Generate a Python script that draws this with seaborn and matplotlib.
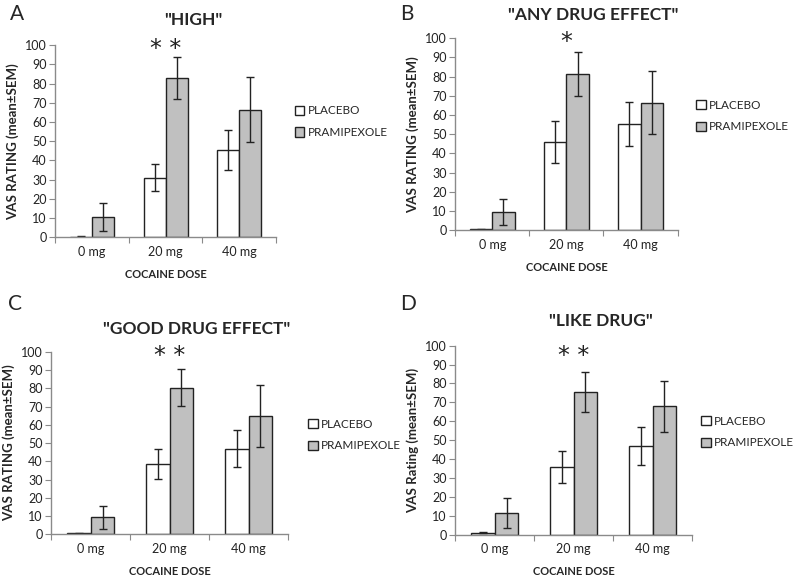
import pandas as pd
import matplotlib.pyplot as plt
import seaborn as sns
from matplotlib.patches import Patch

# data
doses = ["0 mg", "20 mg", "40 mg"]
groups = ["PLACEBO", "PRAMIPEXOLE"]
titles = ['"HIGH"', '"ANY DRUG EFFECT"', '"GOOD DRUG EFFECT"', '"LIKE DRUG"']
letters = ["A", "B", "C", "D"]
ylabels = ["VAS RATING (mean\u00b1SEM)", "VAS RATING (mean\u00b1SEM)",
           "VAS RATING (mean\u00b1SEM)", "VAS Rating (mean\u00b1SEM)"]
stars = ["* *", "*", "* *", "* *"]

placebo_mean = [[0.3, 31.0, 45.5], [0.5, 46.0, 55.5], [0.5, 38.5, 47.0], [1.0, 36.0, 47.0]]
placebo_sem = [[0.3, 7.0, 10.5], [0.3, 11.0, 11.5], [0.3, 8.3, 10.0], [0.3, 8.5, 10.0]]
prami_mean = [[10.5, 83.0, 66.5], [9.5, 81.5, 66.5], [9.3, 80.5, 65.0], [11.5, 75.5, 68.0]]
prami_sem = [[7.3, 11.0, 16.7], [6.7, 11.5, 16.5], [6.3, 10.3, 17.0], [8.0, 10.5, 13.5]]

colors = {"PLACEBO": "white", "PRAMIPEXOLE": "#c0c0c0"}

# panel placement [left, bottom, width, height] and legend anchor
axes_pos = [[0.069, 0.591, 0.276, 0.331], [0.569, 0.603, 0.278, 0.331],
            [0.064, 0.079, 0.296, 0.314], [0.569, 0.078, 0.296, 0.326]]
legend_pos = [(0.358, 0.79), (0.860, 0.80), (0.375, 0.25), (0.866, 0.255)]
letter_pos = [(0.012, 0.975), (0.500, 0.975), (0.010, 0.475), (0.500, 0.475)]
title_y = [0.965, 0.975, 0.432, 0.447]
star_y = [92, 92, 91, 88]


def main():
    sns.set_style("white")
    plt.rcParams["font.family"] = ["Lato", "DejaVu Sans"]
    fig = plt.figure(figsize=(8, 5.8), dpi=100)
    axis_col = "#8a8a8a"

    for i in range(4):
        df = pd.DataFrame({
            "dose": doses * 2,
            "group": [groups[0]] * 3 + [groups[1]] * 3,
            "mean": placebo_mean[i] + prami_mean[i],
            "sem": placebo_sem[i] + prami_sem[i],
        })
        ax = fig.add_axes(axes_pos[i])
        sns.barplot(data=df, x="dose", y="mean", hue="group", palette=colors,
                    errorbar=None, width=0.6, edgecolor="#222222", linewidth=1.0,
                    legend=False, ax=ax)

        # error bars at bar centres
        for bars, g in zip(ax.containers, groups):
            sub = df[df["group"] == g]
            xs = [b.get_x() + b.get_width() / 2 for b in bars]
            ax.errorbar(xs, sub["mean"], yerr=sub["sem"], fmt="none",
                        ecolor="#222222", elinewidth=1.0, capsize=3, capthick=1.0)

        ax.text(1, star_y[i], stars[i], ha="center", va="bottom",
                fontsize=17, color="#222222", family="DejaVu Sans")

        ax.set_ylim(0, 100)
        ax.set_yticks(range(0, 101, 10))
        ax.set_xlim(-0.5, 2.5)
        ax.set_xticks([-0.5, 0.5, 1.5, 2.5])
        ax.set_xticklabels([])
        ax.set_xticks([0, 1, 2], minor=True)
        ax.set_xticklabels(doses, minor=True)
        ax.tick_params(axis="x", which="major", length=4, color=axis_col, direction="out", bottom=True)
        ax.tick_params(axis="x", which="minor", length=0, labelsize=9, pad=6, colors="#222222")
        ax.tick_params(axis="y", length=4, color=axis_col, direction="out", left=True,
                       labelsize=9, labelcolor="#222222", pad=2)
        sns.despine(ax=ax)
        for s in ["left", "bottom"]:
            ax.spines[s].set_color(axis_col)
            ax.spines[s].set_linewidth(1.0)

        ax.set_xlabel("COCAINE DOSE", fontsize=8, fontweight="bold", labelpad=8)
        ax.set_ylabel(ylabels[i], fontsize=9.5, fontweight="bold", labelpad=4)

        fig.text(axes_pos[i][0] + axes_pos[i][2] / 2 + 0.034, title_y[i], titles[i],
                 ha="center", va="center", fontsize=12.5, fontweight="bold")
        fig.text(letter_pos[i][0], letter_pos[i][1], letters[i], ha="left", va="center",
                 fontsize=15)

        handles = [Patch(facecolor=colors[g], edgecolor="#222222", linewidth=1.0, label=g)
                   for g in groups]
        fig.legend(handles=handles, loc="center left", bbox_to_anchor=legend_pos[i],
                   frameon=False, fontsize=8.5, handlelength=0.8, handleheight=0.8,
                   handletextpad=0.3, labelspacing=0.9, borderpad=0.2)

    fig.savefig("out.png", dpi=100)


if __name__ == "__main__":
    main()
